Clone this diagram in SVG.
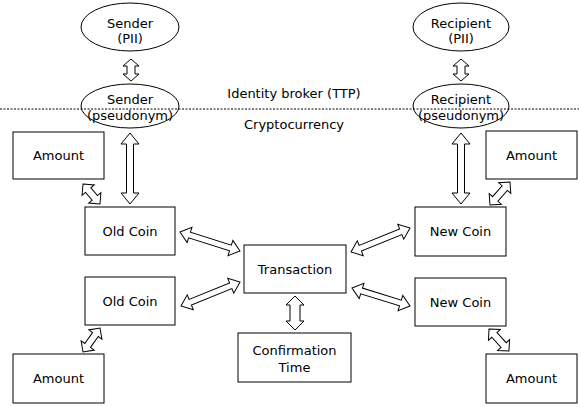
<svg xmlns="http://www.w3.org/2000/svg" width="579" height="407" viewBox="0 0 579 407">
<style>
text{font-family:"DejaVu Sans",Verdana,sans-serif;font-size:13px;fill:#000;text-anchor:middle}
.box{fill:#fff;stroke:#000;stroke-width:1}
.ell{fill:none;stroke:#000;stroke-width:1}
.arr{fill:#fff;stroke:#000;stroke-width:1;stroke-linejoin:miter}
.sep{stroke:#000;stroke-width:1;stroke-dasharray:2 1.5;fill:none}
</style>
<rect width="579" height="407" fill="#fff"/>
<g id="sender-pii"><ellipse class="ell" cx="130" cy="27" rx="49" ry="24"/><text x="130" y="28">Sender</text><text x="130" y="43">(PII)</text></g>
<g id="recipient-pii"><ellipse class="ell" cx="461" cy="27" rx="48" ry="24"/><text x="461" y="28">Recipient</text><text x="461" y="43">(PII)</text></g>
<g id="sender-pseudo"><ellipse class="ell" cx="130" cy="106" rx="49" ry="22"/><text x="130" y="104">Sender</text><text x="130" y="120">(pseudonym)</text></g>
<g id="recipient-pseudo"><ellipse class="ell" cx="461" cy="106" rx="48" ry="22"/><text x="461" y="104">Recipient</text><text x="461" y="120">(pseudonym)</text></g>
<g id="separator"><line class="sep" x1="0" y1="109" x2="579" y2="109"/><text x="294" y="98">Identity broker (TTP)</text><text x="294" y="129">Cryptocurrency</text></g>
<g id="amount1"><rect class="box" x="13" y="132" width="91" height="47"/><text x="58.5" y="160">Amount</text></g>
<g id="oldcoin1"><rect class="box" x="85" y="207" width="90" height="48"/><text x="130" y="236">Old Coin</text></g>
<g id="oldcoin2"><rect class="box" x="85" y="277" width="90" height="48"/><text x="130" y="306">Old Coin</text></g>
<g id="amount2"><rect class="box" x="13" y="354" width="91" height="49"/><text x="58.5" y="383">Amount</text></g>
<g id="transaction"><rect class="box" x="244" y="245" width="102" height="48"/><text x="295" y="274">Transaction</text></g>
<g id="confirmation"><rect class="box" x="238" y="333" width="113" height="49"/><text x="294.5" y="355">Confirmation</text><text x="294.5" y="372">Time</text></g>
<g id="amount3"><rect class="box" x="486" y="131" width="91" height="48"/><text x="531.5" y="160">Amount</text></g>
<g id="newcoin1"><rect class="box" x="415" y="207" width="91" height="49"/><text x="460.5" y="236">New Coin</text></g>
<g id="newcoin2"><rect class="box" x="415" y="278" width="91" height="48"/><text x="460.5" y="307">New Coin</text></g>
<g id="amount4"><rect class="box" x="486" y="354" width="91" height="49"/><text x="531.5" y="383">Amount</text></g>
<g id="connectors">
<path class="arr" transform="translate(131,59) rotate(90)" d="M0,0 L7,-8 L7,-4 L15,-4 L15,-8 L22,0 L15,8 L15,4 L7,4 L7,8 Z"/>
<path class="arr" transform="translate(461,59) rotate(90)" d="M0,0 L7,-8 L7,-4 L15,-4 L15,-8 L22,0 L15,8 L15,4 L7,4 L7,8 Z"/>
<path class="arr" transform="translate(130,133) rotate(90)" d="M0,0 L11,-9 L11,-3.5 L60,-3.5 L60,-9 L71,0 L60,9 L60,3.5 L11,3.5 L11,9 Z"/>
<path class="arr" transform="translate(461,133) rotate(90)" d="M0,0 L11,-9 L11,-3.5 L60,-3.5 L60,-9 L71,0 L60,9 L60,3.5 L11,3.5 L11,9 Z"/>
<path class="arr" transform="translate(295,296) rotate(90)" d="M0,0 L9,-9 L9,-5 L25,-5 L25,-9 L34,0 L25,9 L25,5 L9,5 L9,9 Z"/>
<path class="arr" transform="translate(180,232) rotate(17.6)" d="M0,0 L10,-8 L10,-3 L52.9,-3 L52.9,-8 L62.9,0 L52.9,8 L52.9,3 L10,3 L10,8 Z"/>
<path class="arr" transform="translate(181,306) rotate(-22.1)" d="M0,0 L10,-8 L10,-3 L53.7,-3 L53.7,-8 L63.7,0 L53.7,8 L53.7,3 L10,3 L10,8 Z"/>
<path class="arr" transform="translate(351,252) rotate(-22.1)" d="M0,0 L10,-8 L10,-3 L53.7,-3 L53.7,-8 L63.7,0 L53.7,8 L53.7,3 L10,3 L10,8 Z"/>
<path class="arr" transform="translate(352,288) rotate(17.2)" d="M0,0 L10,-8 L10,-3 L50.7,-3 L50.7,-8 L60.7,0 L50.7,8 L50.7,3 L10,3 L10,8 Z"/>
<path class="arr" transform="translate(83,184) rotate(49.6)" d="M0,0 L8,-8 L8,-3.5 L18.2,-3.5 L18.2,-8 L26.2,0 L18.2,8 L18.2,3.5 L8,3.5 L8,8 Z"/>
<path class="arr" transform="translate(100,328) rotate(125.3)" d="M0,0 L8,-8 L8,-3.5 L21.4,-3.5 L21.4,-8 L29.4,0 L21.4,8 L21.4,3.5 L8,3.5 L8,8 Z"/>
<path class="arr" transform="translate(510,182) rotate(131)" d="M0,0 L8,-8 L8,-3.5 L22.5,-3.5 L22.5,-8 L30.5,0 L22.5,8 L22.5,3.5 L8,3.5 L8,8 Z"/>
<path class="arr" transform="translate(489,329) rotate(47.7)" d="M0,0 L8,-8 L8,-3.5 L21.7,-3.5 L21.7,-8 L29.7,0 L21.7,8 L21.7,3.5 L8,3.5 L8,8 Z"/>
</g>
</svg>
